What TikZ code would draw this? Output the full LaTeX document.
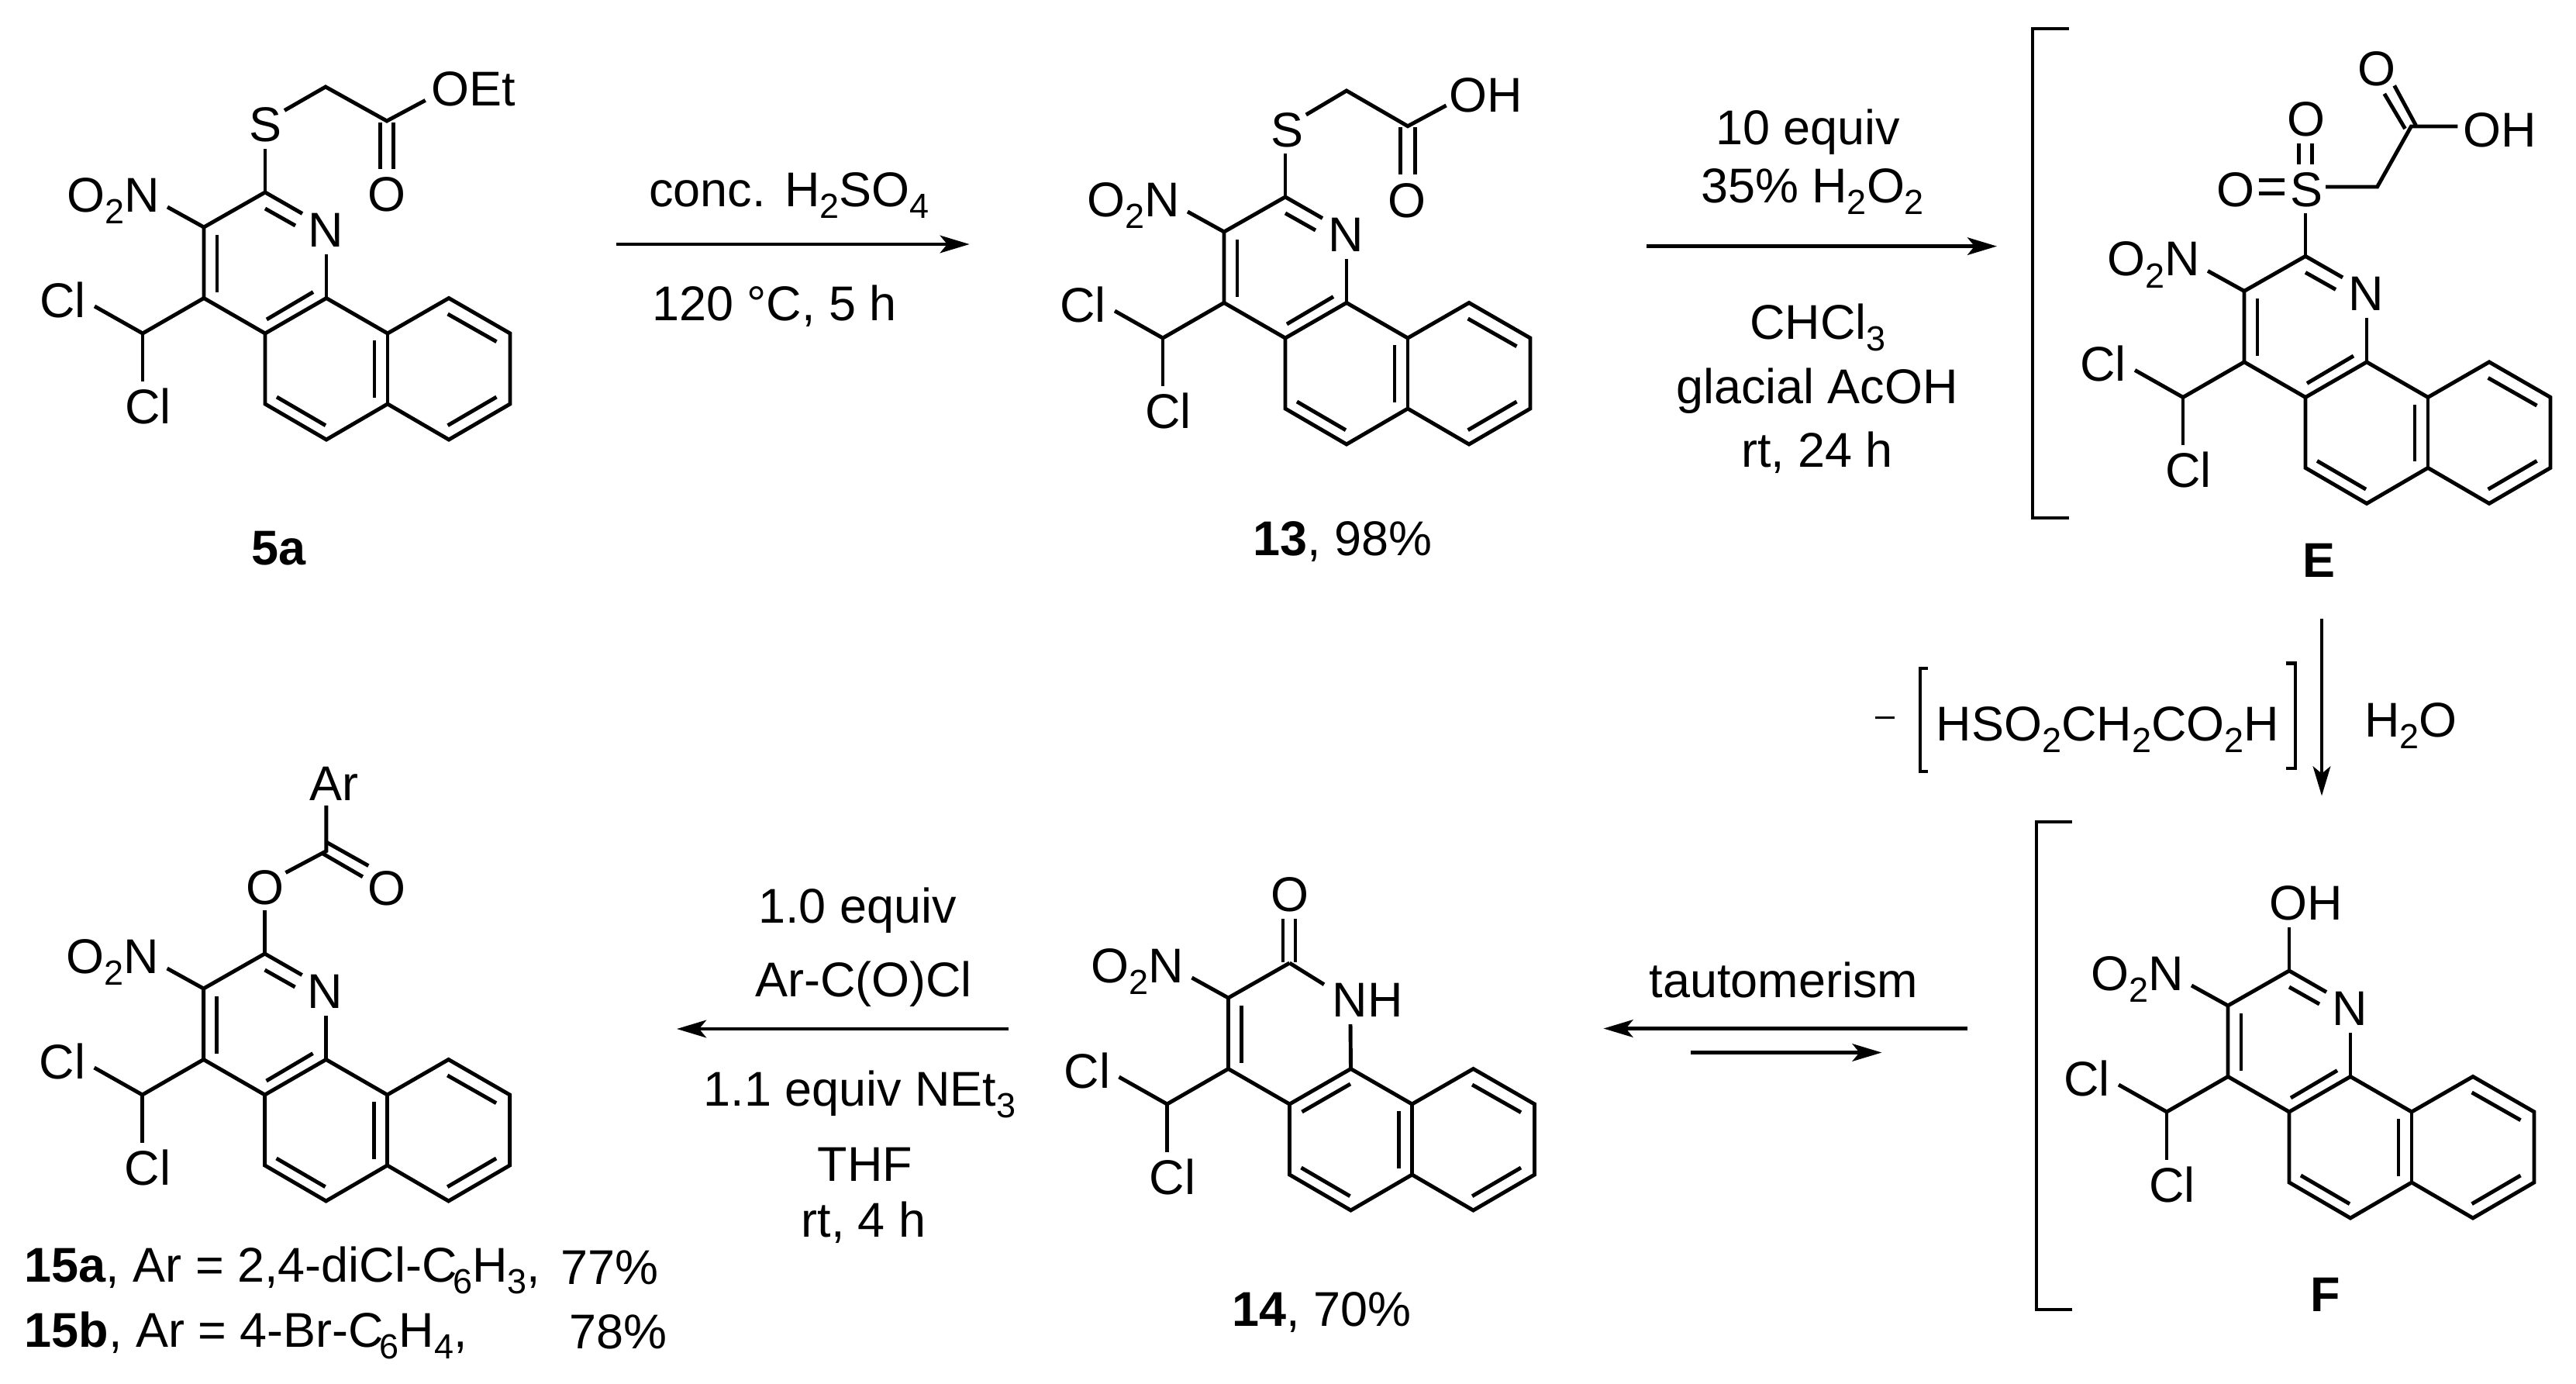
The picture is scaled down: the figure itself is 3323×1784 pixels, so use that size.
\documentclass[tikz,border=0pt]{standalone}
\usepackage{fontspec}
\setmainfont{Liberation Sans}
\usetikzlibrary{arrows.meta}

\newcommand{\chemsub}[1]{\raisebox{-4.3pt}{\fontsize{12.8}{12.8}\selectfont #1}}

\tikzset{
	bond/.style={line width=1.4pt},
	atom/.style={inner sep=0pt,text height=12.8pt,text depth=0pt},
	txt/.style={inner sep=0pt,anchor=base},
	txtl/.style={inner sep=0pt,anchor=base west},
	rxn/.style={line width=1.4pt,-{Stealth[length=10.8pt,width=6.4pt,inset=2.6pt]}},
	brack/.style={line width=1.3pt},
	every node/.style={font=\fontsize{17.9}{21}\selectfont}
}

% benzo ring system, nitro and CHCl2; #1 prefix, #2 position of the ring fusion atom
\newcommand{\corering}[2]{
	\begin{scope}[shift={#2}]
		\coordinate (#1a) at (0,-182);
		\coordinate (#1b) at (-79,-137);
		\coordinate (#1c) at (-79,-45.5);
		\coordinate (#1d) at (0,0);
		\coordinate (#1e) at (79,-45.5);
		\coordinate (#1f) at (158,0);
		\coordinate (#1g) at (237,-45.5);
		\coordinate (#1h) at (316,0);
		\coordinate (#1i) at (316,91);
		\coordinate (#1j) at (237,137);
		\coordinate (#1k) at (158,91);
		\coordinate (#1l) at (79,137);
		\coordinate (#1m) at (0,91);
		\coordinate (#1ch) at (-158,0);
		\draw[bond] (#1a) -- (#1b) -- (#1c) -- (#1d) -- (#1m) -- (#1l) -- (#1k) -- (#1j) -- (#1i) -- (#1h) -- (#1g) -- (#1f) -- (#1e) -- (#1d);
		\draw[bond] (#1f) -- (#1k);
		% inner lines of the double bonds
		\draw[bond] (-62,-127) -- (-62,-53.5);
		\draw[bond] (15,82) -- (78,118.7);
		\draw[bond] (141,9.4) -- (141,83);
		\draw[bond] (235.6,-25) -- (298.5,10.7);
		\draw[bond] (298.5,82) -- (235.6,118.7);
		% substituents
		\node[atom] (#1no) at (-196,-179) {O\chemsub{2}N};
		\node[atom] (#1cla) at (-261,-43) {Cl};
		\node[atom] (#1clb) at (-151,94) {Cl};
		\draw[bond] (#1b) -- (-126,-163);
		\draw[bond] (#1c) -- (#1ch) -- (-220,-35);
		\draw[bond] (#1ch) -- (-158,61.5);
	\end{scope}
}
% pyridine nitrogen
\newcommand{\ringnitrogen}[2]{
	\begin{scope}[shift={#2}]
		\node[atom] (#1n) at (78,-134) {N};
		\draw[bond] (#1a) -- (48,-154.5);
		\draw[bond] (0,-161) -- (39,-139);
		\draw[bond] (#1e) -- (79,-102);
		\draw[bond] (2,-18) -- (62,-53.4);
	\end{scope}
}

\begin{document}
\begin{tikzpicture}[x=.01cm,y=-.01cm]
	\useasboundingbox (0,0) rectangle (3323,1784);

	% 5a
	\corering{p}{(342,430)}
	\ringnitrogen{p}{(342,430)}
	\node[atom] (pS) at (342,160) {S};
	\node[atom] (pOEt) at (611,114) {OEt};
	\node[atom] (pO) at (499,250) {O};
	\coordinate (pch) at (420,112);
	\coordinate (pco) at (499,156);
	\draw[bond] (pa) -- (342,192);
	\draw[bond] (367,142.4) -- (pch) -- (pco) -- (548.7,129.4);
	\draw[bond] (490.4,158) -- (490.4,218);
	\draw[bond] (507.4,158) -- (507.4,218);
	\node[txt] (lab5a) at (360,728) {\textbf{5a}};

	\coordinate (ar1a) at (795,315);
	\coordinate (ar1b) at (1250.7,315);
	\draw[rxn] (ar1a) -- (ar1b);
	\node[txt] (r1a) at (1018,266.7) {conc.\kern2pt\ H\chemsub{2}SO\chemsub{4}};
	\node[txt] (r1b) at (999,413) {120 °C, 5 h};

	% 13
	\corering{q}{(1658,436)}
	\ringnitrogen{q}{(1658,436)}
	\node[atom] (qS) at (1660,167) {S};
	\node[atom] (qOH) at (1917,122) {OH};
	\node[atom] (qO) at (1815,258) {O};
	\coordinate (qch) at (1737,117);
	\coordinate (qco) at (1816,162.7);
	\draw[bond] (qa) -- (1658,197.5);
	\draw[bond] (1684.8,148) -- (qch) -- (qco) -- (1865.6,136);
	\draw[bond] (1806.7,164) -- (1806.7,225);
	\draw[bond] (1825.8,164) -- (1825.8,225);
	\node[txt] (lab13) at (1732,716) {\textbf{13}, 98\%};

	\coordinate (ar2a) at (2124,317.6);
	\coordinate (ar2b) at (2576,317.6);
	\draw[rxn] (ar2a) -- (ar2b);
	\node[txt] (r2a) at (2332,186) {10 equiv};
	\node[txt] (r2b) at (2338,261) {35\% H\chemsub{2}O\chemsub{2}};
	\node[txt] (r2c) at (2345,437) {CHCl\chemsub{3}};
	\node[txt] (r2d) at (2344,520) {glacial AcOH};
	\node[txt] (r2e) at (2344,602) {rt, 24 h};

	% E
	\corering{s}{(2974,512.4)}
	\ringnitrogen{s}{(2974,512.4)}
	\draw[brack] (2669,37) -- (2622,37) -- (2622,668) -- (2669,668);
	\node[atom] (sS) at (2975,244) {S};
	\node[atom] (sOa) at (2883.5,244) {O};
	\node[atom] (sOb) at (2975,153) {O};
	\node[atom] (sOc) at (3065.7,88) {O};
	\node[atom] (sOH) at (3225,167) {OH};
	\coordinate (sch) at (3066.6,241);
	\coordinate (sco) at (3110.4,163);
	\draw[bond] (sa) -- (2974,274.6);
	\draw[bond] (3000,241) -- (sch) -- (sco) -- (3170.3,163);
	\draw[bond] (3075.8,120.9) -- (3102.5,166);
	\draw[bond] (3088.7,110.4) -- (3116.4,161.7);
	\draw[bond] (2913.5,232.3) -- (2946.7,232.3);
	\draw[bond] (2913.5,249.7) -- (2946.7,249.7);
	\draw[bond] (2965.6,185) -- (2965.6,212.4);
	\draw[bond] (2982.7,185) -- (2982.7,212.4);
	\node[txt] (labE) at (2991,744) {\textbf{E}};

	\coordinate (ar3a) at (2995,798);
	\coordinate (ar3b) at (2995,1026.5);
	\draw[rxn] (ar3a) -- (ar3b);
	\node[atom,font=\fontsize{12.8}{14}\selectfont,text height=0pt] (minus) at (2432,937) {–};
	\draw[brack] (2487,862) -- (2477,862) -- (2477,995) -- (2487,995);
	\draw[brack] (2948.6,855.5) -- (2961,855.5) -- (2961,991) -- (2948.6,991);
	\node[txt] (r3a) at (2719,955.7) {HSO\chemsub{2}CH\chemsub{2}CO\chemsub{2}H};
	\node[txt] (r3b) at (3110,950) {H\chemsub{2}O};

	% F
	\corering{t}{(2953,1434)}
	\ringnitrogen{t}{(2953,1434)}
	\draw[brack] (2672.6,1060) -- (2627,1060) -- (2627,1689) -- (2672.6,1689);
	\node[atom] (tOH) at (2975,1164) {OH};
	\draw[bond] (ta) -- (2953,1196);
	\node[txt] (labF) at (3000,1691) {\textbf{F}};

	\coordinate (ar4a) at (2538,1326.5);
	\coordinate (ar4b) at (2068.5,1326.5);
	\coordinate (ar5a) at (2181,1357.5);
	\coordinate (ar5b) at (2427.5,1357.5);
	\draw[rxn] (ar4a) -- (ar4b);
	\draw[rxn] (ar5a) -- (ar5b);
	\node[txt] (r4a) at (2301,1286) {tautomerism};

	% 14
	\corering{u}{(1663.5,1424)}
	\node[atom] (uO) at (1663.5,1153) {O};
	\node[atom] (uNH) at (1764,1289) {NH};
	\draw[bond] (ua) -- (1708,1269.7);
	\draw[bond] (ue) -- (1742,1321);
	\draw[bond] (1655,1185) -- (1655,1241);
	\draw[bond] (1671,1185) -- (1671,1241);
	\draw[bond] (1679.5,1434) -- (1742,1398);
	\node[txt] (lab14) at (1705,1710) {\textbf{14}, 70\%};

	\coordinate (ar6a) at (1301,1327);
	\coordinate (ar6b) at (873,1327);
	\draw[rxn] (ar6a) -- (ar6b);
	\node[txt] (r6a) at (1106,1190.7) {1.0 equiv};
	\node[txt] (r6b) at (1114,1285.7) {Ar-C(O)Cl};
	\node[txt] (r6c) at (1109,1426) {1.1 equiv NEt\chemsub{3}};
	\node[txt] (r6d) at (1116,1523) {THF};
	\node[txt] (r6e) at (1114,1595.7) {rt, 4 h};

	% 15
	\corering{v}{(341.6,1412)}
	\ringnitrogen{v}{(341.6,1412)}
	\node[atom] (vOa) at (341.6,1144) {O};
	\node[atom] (vOb) at (499.4,1145) {O};
	\node[atom] (vAr) at (431,1010) {Ar};
	\coordinate (vco) at (420.8,1097.7);
	\draw[bond] (va) -- (341.6,1174.4);
	\draw[bond] (368.5,1125.5) -- (vco) -- (420.8,1038.8);
	\draw[bond] (420.8,1086) -- (475.3,1116.6);
	\draw[bond] (416.2,1100.8) -- (467.9,1130.8);
	\node[txtl] (lab15a) at (31,1653) {\textbf{15a}, Ar = 2,4-diCl-C\kern-1.5pt\chemsub{6}H\chemsub{3},};
	\node[txtl] (lab15b) at (31,1737) {\textbf{15b}, Ar = 4-Br-C\kern-1.5pt\chemsub{6}H\chemsub{4},};
	\node[txtl] (yld15a) at (723,1656.7) {77\%};
	\node[txtl] (yld15b) at (734,1739) {78\%};
\end{tikzpicture}
\end{document}
